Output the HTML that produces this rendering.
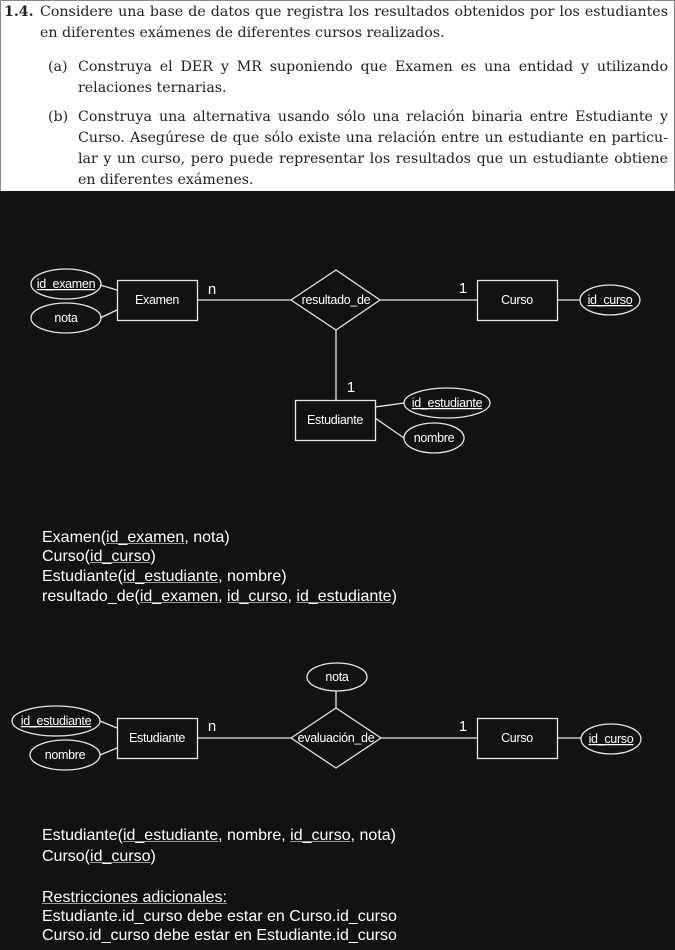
<!DOCTYPE html>
<html><head><meta charset="utf-8"><style>
body{margin:0;width:675px;height:950px;background:#121212;position:relative;overflow:hidden}
#top{position:absolute;left:0;top:0;width:673px;height:190px;background:#fff;border:1px solid #8a8a8a;border-bottom:none}
.l{position:absolute;font-family:"DejaVu Serif","Liberation Serif",serif;font-size:14.2px;color:#222;white-space:nowrap;line-height:18px}
.j{text-align:justify;text-align-last:justify;white-space:normal}
.m{position:absolute;left:42px;font-family:"Liberation Sans",sans-serif;font-size:16px;color:#fff;line-height:20px;white-space:nowrap}
.m u{text-decoration-color:#999}
svg text{font-family:"Liberation Sans",sans-serif;fill:#fff}
</style></head><body>
<div id="top"></div>
<div class="l" style="left:4px;top:3px;font-weight:bold">1.4.</div>
<div class="l j" style="left:40px;top:3px;width:628px">Considere una base de datos que registra los resultados obtenidos por los estudiantes</div>
<div class="l" style="left:40px;top:24px">en diferentes exámenes de diferentes cursos realizados.</div>
<div class="l" style="left:48px;top:58px">(a)</div>
<div class="l j" style="left:78px;top:58px;width:590px">Construya el DER y MR suponiendo que Examen es una entidad y utilizando</div>
<div class="l" style="left:78px;top:79px">relaciones ternarias.</div>
<div class="l" style="left:48px;top:108px">(b)</div>
<div class="l j" style="left:78px;top:108px;width:590px">Construya una alternativa usando sólo una relación binaria entre Estudiante y</div>
<div class="l j" style="left:78px;top:129px;width:590px">Curso. Asegúrese de que sólo existe una relación entre un estudiante en particu-</div>
<div class="l j" style="left:78px;top:150px;width:590px">lar y un curso, pero puede representar los resultados que un estudiante obtiene</div>
<div class="l" style="left:78px;top:171px">en diferentes exámenes.</div>

<svg width="675" height="950" style="position:absolute;left:0;top:0" fill="none" stroke="#e6e6e6" stroke-width="1.3">
<line x1="100" y1="285" x2="117" y2="290"/><line x1="100" y1="318" x2="117" y2="310"/>
<line x1="198" y1="300" x2="291" y2="300"/><line x1="380" y1="300" x2="477" y2="300"/>
<line x1="558" y1="300" x2="580" y2="300"/><line x1="336" y1="330" x2="336" y2="400"/>
<line x1="375" y1="407" x2="404" y2="403"/><line x1="375" y1="418" x2="404" y2="438"/>
<ellipse cx="66" cy="284" rx="35" ry="15"/><ellipse cx="66" cy="318" rx="35" ry="15"/>
<rect x="117.5" y="280.5" width="80" height="40"/>
<polygon points="291,300 336,270 380,300 336,330" fill="#121212"/>
<rect x="477.5" y="280.5" width="80" height="40"/>
<ellipse cx="610" cy="300" rx="30" ry="15"/>
<rect x="295.5" y="400.5" width="80" height="40"/>
<ellipse cx="447" cy="403" rx="43" ry="15"/><ellipse cx="434" cy="438" rx="30" ry="15"/>
<line x1="100" y1="721" x2="117" y2="728"/><line x1="100" y1="755" x2="117" y2="748"/>
<line x1="198" y1="738" x2="291" y2="738"/><line x1="381" y1="738" x2="478" y2="738"/>
<line x1="558" y1="738" x2="581" y2="738"/><line x1="336" y1="691" x2="336" y2="708"/>
<ellipse cx="56" cy="721" rx="44" ry="15"/><ellipse cx="65" cy="755" rx="35" ry="15"/>
<rect x="117.5" y="718.5" width="80" height="40"/>
<polygon points="291,738 336,708 381,738 336,768" fill="#121212"/>
<rect x="477.5" y="718.5" width="80" height="40"/>
<ellipse cx="611" cy="739" rx="30" ry="15"/>
<ellipse cx="337" cy="677" rx="30" ry="14"/>
<g stroke="none" font-size="12.5" text-anchor="middle" letter-spacing="-0.3">
<text x="66" y="288" text-decoration="underline">id_examen</text>
<text x="66" y="322">nota</text>
<text x="157" y="304">Examen</text>
<text x="336" y="304">resultado_de</text>
<text x="517" y="304">Curso</text>
<text x="610" y="304" text-decoration="underline">id_curso</text>
<text x="335" y="424">Estudiante</text>
<text x="447" y="407" text-decoration="underline">id_estudiante</text>
<text x="434" y="442">nombre</text>
<text x="56" y="725" text-decoration="underline">id_estudiante</text>
<text x="65" y="759">nombre</text>
<text x="157" y="742">Estudiante</text>
<text x="336" y="742">evaluación_de</text>
<text x="517" y="742">Curso</text>
<text x="611" y="743" text-decoration="underline">id_curso</text>
<text x="337" y="681">nota</text>
</g>
<g stroke="none" font-size="15" text-anchor="middle">
<text x="212" y="294">n</text><text x="463" y="293">1</text><text x="351" y="392">1</text>
<text x="212" y="731">n</text><text x="463" y="731">1</text>
</g>
</svg>

<div class="m" style="top:528px">Examen(<u>id_examen</u>, nota)</div>
<div class="m" style="top:547px">Curso(<u>id_curso</u>)</div>
<div class="m" style="top:567px">Estudiante(<u>id_estudiante</u>, nombre)</div>
<div class="m" style="top:587px">resultado_de(<u>id_examen</u>, <u>id_curso</u>, <u>id_estudiante</u>)</div>
<div class="m" style="top:826px">Estudiante(<u>id_estudiante</u>, nombre, <u>id_curso</u>, nota)</div>
<div class="m" style="top:847px">Curso(<u>id_curso</u>)</div>
<div class="m" style="top:888px"><u>Restricciones adicionales:</u></div>
<div class="m" style="top:907px">Estudiante.id_curso debe estar en Curso.id_curso</div>
<div class="m" style="top:926px">Curso.id_curso debe estar en Estudiante.id_curso</div>
</body></html>
